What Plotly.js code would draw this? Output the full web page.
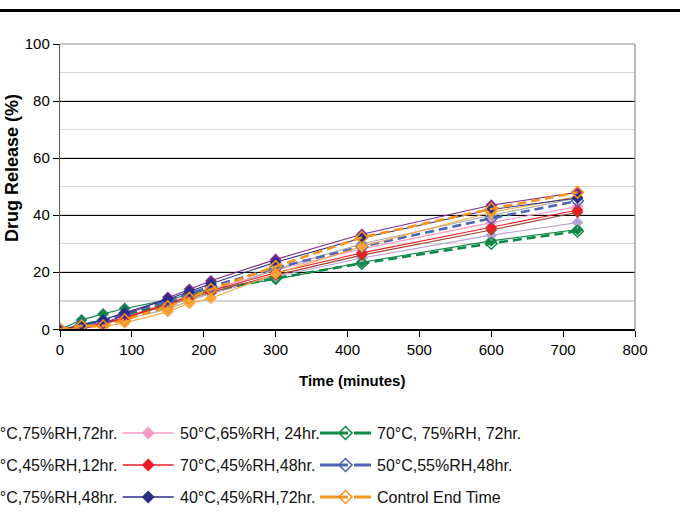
<!DOCTYPE html>
<html>
<head>
<meta charset="utf-8">
<script src="https://cdn.plot.ly/plotly-3.0.1.min.js"></script>
<style>
  html, body { margin: 0; padding: 0; background: #ffffff; }
  #chart { width: 680px; height: 516px; }
</style>
</head>
<body>
<div id="chart"></div>
<script>
// ---------------- DATA ----------------
const times = [0, 30, 60, 90, 150, 180, 210, 300, 420, 600, 720];

// legend order (row by row, four columns; the two left columns are cut off in the reference)
const seriesNames = [
  "40°C,45%RH,24hr.", "40°C,75%RH,72hr.", "50°C,65%RH, 24hr.", "70°C, 75%RH, 72hr.",
  "50°C,45%RH,24hr.", "40°C,45%RH,12hr.", "70°C,45%RH,48hr.", "50°C,55%RH,48hr.",
  "70°C,45%RH,72hr.", "40°C,75%RH,48hr.", "40°C,45%RH,72hr.", "Control End Time"
];

const greenSolid  = [0, 3.3, 5.4, 7.3, 10.3, 12.3, 14.2, 17.5, 23.5, 31.0, 35.0];
const lavender    = [0, 1.0, 2.0, 4.0, 8.5, 10.5, 12.5, 18.5, 25.0, 33.0, 37.4];
const pink        = [0, 1.0, 2.2, 4.3, 9.2, 11.8, 13.8, 20.8, 28.2, 37.4, 43.0];
const greenDashed = [0, 1.5, 3.0, 5.0, 9.0, 11.5, 13.5, 17.9, 23.1, 30.1, 34.4];
const gray        = [0, 1.0, 2.0, 3.5, 7.0, 10.0, 12.6, 21.0, 30.0, 40.0, 46.0];
const brown       = [0, 1.0, 2.0, 4.0, 8.8, 11.0, 13.0, 19.0, 26.0, 34.8, 41.0];
const red         = [0, 1.0, 2.0, 4.0, 9.0, 11.5, 13.5, 19.8, 26.8, 35.7, 41.8];
const blueDashed  = [0, 1.5, 2.7, 5.5, 10.0, 12.5, 15.0, 21.5, 29.0, 38.9, 45.0];
const lightOrange = [0, 0.5, 1.0, 2.2, 6.2, 9.1, 10.9, 19.5, 29.0, 41.0, 46.5];
const purple      = [0, 0.0, 2.0, 5.0, 11.2, 14.0, 17.0, 24.5, 33.3, 43.5, 48.0];
const navy        = [0, 1.5, 3.3, 5.8, 10.5, 13.2, 16.0, 23.5, 32.0, 42.0, 46.0];
const control     = [0, 1.2, 1.2, 3.3, 7.9, 10.9, 14.0, 22.0, 32.2, 42.2, 48.0];

const seriesValues = [
  greenSolid, lavender, pink, greenDashed,
  gray, brown, red, blueDashed,
  lightOrange, purple, navy, control
];

const xTickVals = [0, 100, 200, 300, 400, 500, 600, 700, 800];
const yTickVals = [0, 20, 40, 60, 80, 100];

// ---------------- STYLES ----------------
const styles = [
  {color: "#13884A", dashed: false},
  {color: "#B9A3D6", dashed: false},
  {color: "#F59BC3", dashed: false},
  {color: "#0E8A45", dashed: true},
  {color: "#A8A8A8", dashed: false},
  {color: "#A2412F", dashed: false},
  {color: "#EC1C24", dashed: false},
  {color: "#4A66B5", dashed: true},
  {color: "#F9A53A", dashed: false},
  {color: "#7D2C8E", dashed: false},
  {color: "#2B2E86", dashed: false},
  {color: "#F7941D", dashed: true}
];

const W = 680, H = 516;
const plotL = 60, plotR = 635, plotT = 44, plotB = 329.3;
const FONT = "Arial, 'Liberation Sans', sans-serif";
const px = v => v / W;          // pixel -> paper x
const py = v => 1 - v / H;      // pixel -> paper y

const traces = [];
seriesValues.forEach((vals, i) => {
  const st = styles[i];
  traces.push({
    type: "scatter", mode: "lines+markers",
    x: times, y: vals, name: seriesNames[i], showlegend: false,
    line: {color: st.color, width: st.dashed ? 2.6 : 1.1, dash: st.dashed ? "9px,5px" : "solid"},
    marker: st.dashed
      ? {symbol: "diamond-open", size: 9, color: st.color, line: {color: st.color, width: 1.5}}
      : {symbol: "diamond", size: 9, color: st.color},
    xaxis: "x", yaxis: "y"
  });
});

// ---------------- LEGEND (drawn on a pixel overlay axis) ----------------
// the reference legend is cropped at the left edge: the first column is off-page,
// the second column shows only the tail of its labels
const legCol0 = 122.7, legPitch = 197.3, legRow0 = 433, legRowStep = 32, legLineW = 51;
const annotations = [];
seriesValues.forEach((vals, i) => {
  const st = styles[i];
  const c = i % 4, r = Math.floor(i / 4);
  const x0 = legCol0 + (c - 2) * legPitch;
  const y0 = legRow0 + r * legRowStep;
  if (x0 + legLineW > 0) {
    traces.push({
      type: "scatter", mode: "lines", x: [x0, x0 + legLineW], y: [y0, y0],
      line: {color: st.color, width: st.dashed ? 3 : 1.5, dash: st.dashed ? "28px,6px" : "solid"},
      showlegend: false, hoverinfo: "skip", xaxis: "x2", yaxis: "y2"
    });
    traces.push({
      type: "scatter", mode: "markers", x: [x0 + legLineW / 2], y: [y0],
      marker: st.dashed
        ? {symbol: "diamond-open", size: 10, color: st.color, line: {color: st.color, width: 1.5}}
        : {symbol: "diamond", size: 10, color: st.color},
      showlegend: false, hoverinfo: "skip", xaxis: "x2", yaxis: "y2"
    });
  }
  if (c >= 1) {
    annotations.push({
      xref: "paper", yref: "paper", x: px(x0 + legLineW + 4), y: py(y0), xanchor: "left", yanchor: "middle",
      text: seriesNames[i], showarrow: false, font: {family: FONT, size: 16, color: "#111"}
    });
  }
});

// axis titles
annotations.push({
  xref: "paper", yref: "paper", x: px(352), y: py(380), xanchor: "center", yanchor: "middle",
  text: "<b>Time (minutes)</b>", showarrow: false, font: {family: FONT, size: 15, color: "#000"}
});
annotations.push({
  xref: "paper", yref: "paper", x: px(12), y: py(168), xanchor: "center", yanchor: "middle", textangle: -90,
  text: "<b>Drug Release (%)</b>", showarrow: false, font: {family: FONT, size: 18, color: "#000"}
});

const layout = {
  width: W, height: H,
  margin: {l: 0, r: 0, t: 0, b: 0, pad: 0},
  paper_bgcolor: "#ffffff", plot_bgcolor: "rgba(0,0,0,0)",
  showlegend: false,
  font: {family: FONT, size: 15, color: "#000"},
  xaxis: {
    domain: [plotL / W, plotR / W], range: [0, 800],
    tickvals: xTickVals, ticktext: xTickVals.map(String),
    ticks: "outside", ticklen: 6, tickcolor: "#000", tickwidth: 1,
    showline: true, linecolor: "#000", linewidth: 1.2,
    showgrid: false, zeroline: false,
    tickfont: {family: FONT, size: 15, color: "#000"},
    anchor: "y", fixedrange: true
  },
  yaxis: {
    domain: [(H - plotB) / H, (H - plotT) / H], range: [0, 100],
    tickvals: yTickVals, ticktext: yTickVals.map(String),
    ticks: "outside", ticklen: 6, tickcolor: "#000", tickwidth: 1,
    showline: true, linecolor: "#555", linewidth: 1.2,
    showgrid: true, gridcolor: "#000", gridwidth: 1,
    minor: {dtick: 10, showgrid: true, gridcolor: "#d6d6d6", gridwidth: 1.5, ticks: ""},
    zeroline: false,
    tickfont: {family: FONT, size: 15, color: "#000"},
    anchor: "x", fixedrange: true
  },
  xaxis2: {domain: [0, 1], range: [0, W], visible: false, anchor: "y2", fixedrange: true},
  yaxis2: {domain: [0, 1], range: [H, 0], visible: false, anchor: "x2", fixedrange: true},
  annotations: annotations,
  shapes: [
    {type: "line", xref: "paper", yref: "paper", x0: 0, x1: 1, y0: py(10.5), y1: py(10.5),
     line: {color: "#000", width: 3}},
    {type: "line", xref: "x domain", yref: "y domain", x0: 0, x1: 1, y0: 1, y1: 1,
     line: {color: "#8c8c8c", width: 1.2}, layer: "above"},
    {type: "line", xref: "x domain", yref: "y domain", x0: 1, x1: 1, y0: 0, y1: 1,
     line: {color: "#8c8c8c", width: 1.2}, layer: "above"}
  ]
};

Plotly.newPlot("chart", traces, layout, {displayModeBar: false, staticPlot: true});
</script>
</body>
</html>
